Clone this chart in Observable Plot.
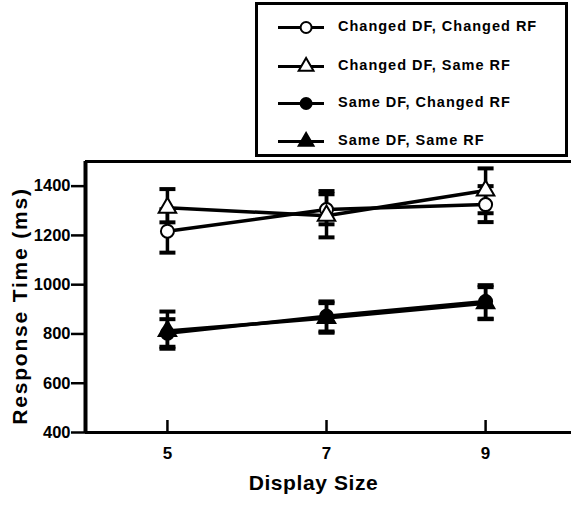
<!DOCTYPE html>
<html>
<head>
<meta charset="utf-8">
<script src="https://cdn.jsdelivr.net/npm/d3@7"></script>
<script src="https://cdn.jsdelivr.net/npm/@observablehq/plot@0.6"></script>
<style>
  html, body { margin: 0; padding: 0; background: #fff; }
  #wrap { position: relative; width: 571px; height: 508px; font-family: "Liberation Sans", Arial, Helvetica, sans-serif; font-weight: bold; }
  #legend { position: absolute; left: 255px; top: 2px; width: 307px; height: 149px; border: 3px solid #000; background: #fff; }
  .row { position: absolute; left: 0; width: 300px; height: 20px; }
  .row svg { position: absolute; left: 20px; top: 0; max-width: none !important; }
  .row span { position: absolute; left: 80px; top: 1px; white-space: nowrap; font-size: 14.5px; letter-spacing: 1px; color: #000; }
  .tick-narrow text { font-family: "Liberation Sans Narrow", "Arial Narrow", "Liberation Sans", sans-serif; }
</style>
</head>
<body>
<div id="wrap">
  <div id="chart"></div>
  <div id="legend"></div>
</div>
<script>
// ---- data ----
const displaySizes = [5, 7, 9];
const conditions = ["Changed DF, Changed RF", "Changed DF, Same RF", "Same DF, Changed RF", "Same DF, Same RF"];
const symbols = ["circle", "triangle", "circle", "triangle"];
const fills = ["white", "white", "black", "black"];
const meanCC = [1217, 1305, 1325];
const lowCC  = [1130, 1245, 1254];
const highCC = [1306, 1367, 1400];
const meanCS = [1312, 1280, 1382];
const lowCS  = [1253, 1192, 1290];
const highCS = [1388, 1380, 1472];
const meanSC = [803, 872, 932];
const lowSC  = [748, 810, 862];
const highSC = [860, 932, 998];
const meanSS = [812, 865, 925];
const lowSS  = [740, 805, 860];
const highSS = [891, 925, 990];
const yTicks = [400, 600, 800, 1000, 1200, 1400];
const xTicks = [5, 7, 9];

const means = [meanCC, meanCS, meanSC, meanSS];
const lows = [lowCC, lowCS, lowSC, lowSS];
const highs = [highCC, highCS, highSC, highSS];

const rows = [];
conditions.forEach((c, i) => displaySizes.forEach((x, j) => rows.push({
  cond: c, x, y: means[i][j], lo: lows[i][j], hi: highs[i][j], symbol: symbols[i], fill: fills[i]
})));

const capSymbol = { draw(ctx) { ctx.moveTo(-8, 0); ctx.lineTo(8, 0); } };
const xMin = 3.97;

const chart = Plot.plot({
  width: 571, height: 508,
  marginLeft: 85, marginRight: 0, marginTop: 161, marginBottom: 76,
  style: { fontFamily: '"Liberation Sans", Arial, Helvetica, sans-serif', fontWeight: "bold", fontSize: "15px", color: "#000", background: "#fff" },
  x: { domain: [xMin, 10.08] },
  y: { domain: [400, 1500] },
  marks: [
    Plot.ruleX([xMin], { strokeWidth: 4 }),
    Plot.ruleY([400, 1500], { strokeWidth: 3 }),
    Plot.axisY({ ticks: yTicks, tickSize: 14, tickPadding: 1, tickFormat: d => String(d), strokeWidth: 2.5, label: null, fontSize: 16.5, className: "tick-narrow" }),
    Plot.axisX({ ticks: xTicks, tickSize: -12, tickFormat: () => "", strokeWidth: 2.5, label: null }),
    Plot.axisX({ ticks: xTicks, tickSize: 0, tickPadding: 14, tickFormat: d => String(d), label: null, fontSize: 17, className: "tick-narrow" }),
    Plot.line(rows, { x: "x", y: "y", z: "cond", stroke: "black", strokeWidth: 3.5 }),
    Plot.ruleX(rows, { x: "x", y1: "lo", y2: "hi", stroke: "black", strokeWidth: 3.5 }),
    Plot.dot(rows, { x: "x", y: "lo", symbol: () => capSymbol, r: 7, stroke: "black", strokeWidth: 4 }),
    Plot.dot(rows, { x: "x", y: "hi", symbol: () => capSymbol, r: 7, stroke: "black", strokeWidth: 4 }),
    Plot.dot(rows, { x: "x", y: "y", symbol: "symbol", fill: "fill", stroke: "black", strokeWidth: 2, r: 6.5 }),
    Plot.text(["Response Time (ms)"], { frameAnchor: "left", textAnchor: "middle", lineAnchor: "middle", rotate: -90, dx: -65, dy: 9, fontSize: 21, fontWeight: "bold" }),
    Plot.text(["Display Size"], { frameAnchor: "bottom", textAnchor: "middle", lineAnchor: "middle", dx: -15, dy: 51, fontSize: 21, fontWeight: "bold" })
  ]
});
document.getElementById("chart").appendChild(chart);
chart.querySelectorAll("text").forEach(t => {
  if (t.textContent === "Response Time (ms)") t.style.letterSpacing = "1.8px";
  if (t.textContent === "Display Size") t.style.letterSpacing = "0.6px";
});

// ---- legend ----
const legend = document.getElementById("legend");
const rowTops = [12, 51, 88, 126];
conditions.forEach((c, i) => {
  const row = document.createElement("div");
  row.className = "row";
  row.style.top = rowTops[i] + "px";
  const sym = Plot.plot({
    width: 46, height: 20, margin: 0,
    x: { domain: [0, 1], axis: null }, y: { domain: [0, 1], axis: null },
    marks: [
      Plot.ruleY([0.5], { x1: 0, x2: 1, stroke: "black", strokeWidth: 3 }),
      Plot.dot([{ x: 0.6, y: 0.5 }], { x: "x", y: "y", symbol: symbols[i], fill: fills[i], stroke: "black", strokeWidth: 2, r: 5.5 })
    ]
  });
  row.appendChild(sym);
  const label = document.createElement("span");
  label.textContent = c;
  row.appendChild(label);
  legend.appendChild(row);
});
</script>
</body>
</html>
